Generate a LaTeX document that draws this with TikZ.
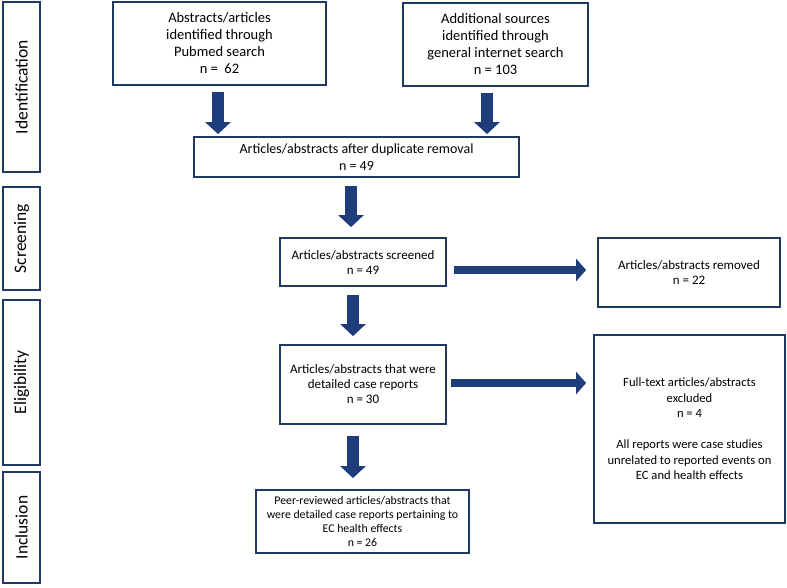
\documentclass[tikz,border=0pt]{standalone}
\usepackage{fontspec}
\setmainfont{Carlito}
\usetikzlibrary{arrows.meta}
\definecolor{boxnavy}{HTML}{1F3864}
\definecolor{arrownavy}{HTML}{1F3D7A}
\newcommand\fs[2]{\fontsize{#1}{#2}\selectfont}
\tikzset{%
  box/.style={draw=boxnavy,line width=1.8pt,align=center,inner sep=2pt,
    text=black,fill=white},
  phase/.style={box,rotate=90,minimum height=37pt,font=\fs{17.5}{20}},
  downarrow/.style={draw=arrownavy,line width=12pt,
    -{Triangle[width=25pt,length=12pt]}},
  sidearrow/.style={draw=arrownavy,line width=8pt,
    -{Triangle[width=22pt,length=10pt]}}%
}

\begin{document}
\begin{tikzpicture}[x=1pt,y=-1pt]

\useasboundingbox (0,0) rectangle (787,587);

% phases
\node[phase,minimum width=170pt] (ident) at (21.5,87) {Identification};
\node[phase,minimum width=103pt] (screen) at (21.5,238.5) {Screening};
\node[phase,minimum width=165pt] (elig) at (21.5,382.5) {Eligibility};
\node[phase,minimum width=111pt] (incl) at (21.5,527.5) {Inclusion};

% boxes
\node[box,minimum width=213pt,minimum height=83pt,font=\fs{14.5}{17}]
  (pubmed) at (219.5,43.5)
  {Abstracts/articles\\identified through\\Pubmed search\\n =\ \ 62};
\node[box,minimum width=185pt,minimum height=83pt,font=\fs{14.5}{17}]
  (internet) at (495.5,44.5)
  {Additional sources\\identified through\\general internet search\\n = 103};
\node[box,minimum width=325pt,minimum height=40pt,font=\fs{14}{16.5}]
  (dup) at (356.5,157)
  {Articles/abstracts after duplicate removal\\n = 49};
\node[box,minimum width=166pt,minimum height=48pt,font=\fs{13}{15}]
  (screened) at (363,262) {Articles/abstracts screened\\n = 49};
\node[box,minimum width=182pt,minimum height=69pt,font=\fs{13}{15}]
  (removed) at (689,272.5) {Articles/abstracts removed\\n = 22};
\node[box,minimum width=166pt,minimum height=79pt,font=\fs{13}{15}]
  (eligible) at (363,384.5)
  {Articles/abstracts that were\\detailed case reports\\n = 30};
\node[box,minimum width=191pt,minimum height=188pt,font=\fs{12.6}{15.5}]
  (excluded) at (689.5,429)
  {Full-text articles/abstracts\\excluded\\n = 4\\[15.5pt]All reports were case studies\\
   unrelated to reported events on\\EC and health effects};
\node[box,minimum width=213pt,minimum height=63pt,font=\fs{11.8}{14}]
  (included) at (362.5,521.5)
  {Peer-reviewed articles/abstracts that\\were detailed case reports pertaining to\\
   EC health effects\\n = 26};

% arrows
\draw[downarrow,shorten <=6pt,shorten >=2pt]
  ([xshift=-1.5pt]pubmed.south) -- ([xshift=-1.5pt]pubmed.south |- dup.north);
\draw[downarrow,shorten <=6pt,shorten >=2pt]
  ([xshift=-8.5pt]internet.south) -- ([xshift=-8.5pt]internet.south |- dup.north);
\draw[downarrow,shorten <=8pt,shorten >=10pt]
  ([xshift=-5.5pt]dup.south) -- ([xshift=-5.5pt]dup.south |- screened.north);
\draw[downarrow,shorten <=8pt,shorten >=8pt]
  ([xshift=-10pt]screened.south) -- ([xshift=-10pt]screened.south |- eligible.north);
\draw[downarrow,shorten <=11pt,shorten >=11pt]
  ([xshift=-10pt]eligible.south) -- ([xshift=-10pt]eligible.south |- included.north);
\draw[sidearrow,shorten <=7pt,shorten >=11pt]
  ([yshift=2.5pt]screened.east |- removed.west) -- ([yshift=2.5pt]removed.west);
\draw[sidearrow,shorten <=4pt,shorten >=7pt]
  ([yshift=1.5pt]eligible.east) -- ([yshift=1.5pt]eligible.east -| excluded.west);

\end{tikzpicture}
\end{document}
